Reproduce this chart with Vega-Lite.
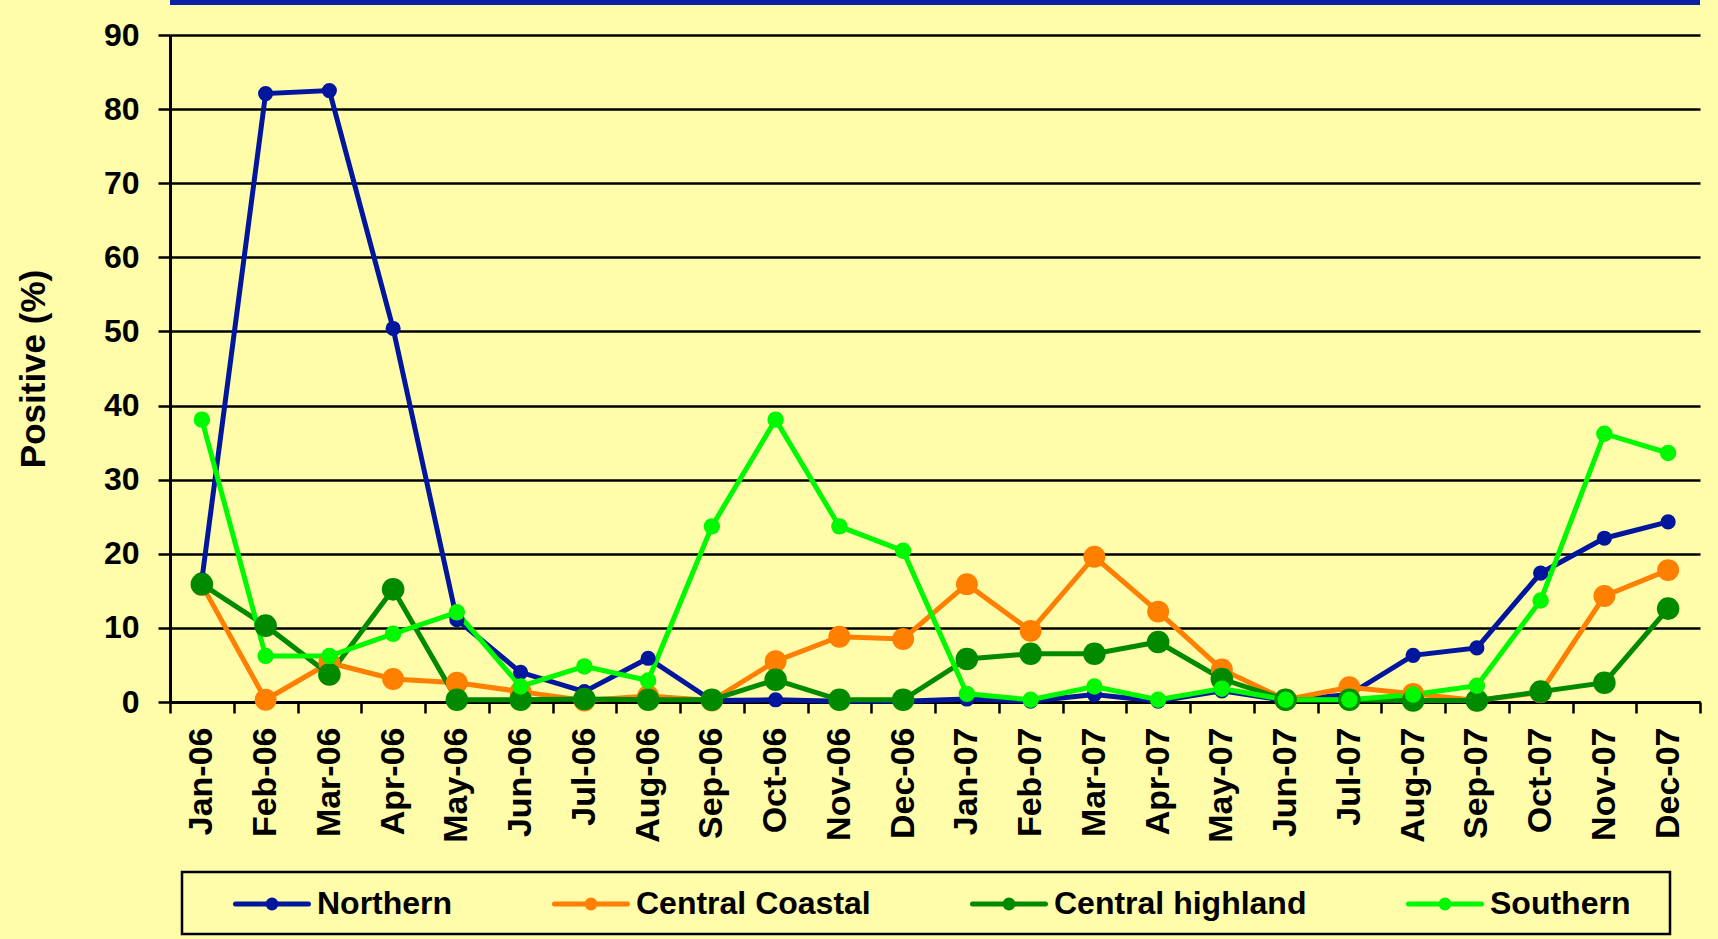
{
  "$schema": "https://vega.github.io/schema/vega-lite/v6.json",
  "autosize": {"type": "none"},
  "width": 1530,
  "height": 667,
  "padding": {"left": 170, "top": 35, "right": 18, "bottom": 237},
  "background": "#FFFCAA",
  "config": {"view": {"stroke": null}, "font": "Liberation Sans"},
  "datasets": {
    "rows": [
      {"month": "Jan-06", "series": "Northern", "value": 16.5},
      {"month": "Feb-06", "series": "Northern", "value": 82.1},
      {"month": "Mar-06", "series": "Northern", "value": 82.5},
      {"month": "Apr-06", "series": "Northern", "value": 50.4},
      {"month": "May-06", "series": "Northern", "value": 11.1},
      {"month": "Jun-06", "series": "Northern", "value": 4.0},
      {"month": "Jul-06", "series": "Northern", "value": 1.4},
      {"month": "Aug-06", "series": "Northern", "value": 5.9},
      {"month": "Sep-06", "series": "Northern", "value": 0.2},
      {"month": "Oct-06", "series": "Northern", "value": 0.3},
      {"month": "Nov-06", "series": "Northern", "value": 0.1},
      {"month": "Dec-06", "series": "Northern", "value": 0.1},
      {"month": "Jan-07", "series": "Northern", "value": 0.4},
      {"month": "Feb-07", "series": "Northern", "value": 0.1},
      {"month": "Mar-07", "series": "Northern", "value": 1.0},
      {"month": "Apr-07", "series": "Northern", "value": 0.1},
      {"month": "May-07", "series": "Northern", "value": 1.5},
      {"month": "Jun-07", "series": "Northern", "value": 0.2},
      {"month": "Jul-07", "series": "Northern", "value": 1.0},
      {"month": "Aug-07", "series": "Northern", "value": 6.3},
      {"month": "Sep-07", "series": "Northern", "value": 7.3},
      {"month": "Oct-07", "series": "Northern", "value": 17.4},
      {"month": "Nov-07", "series": "Northern", "value": 22.1},
      {"month": "Dec-07", "series": "Northern", "value": 24.3},
      {"month": "Jan-06", "series": "Central Coastal", "value": 15.8},
      {"month": "Feb-06", "series": "Central Coastal", "value": 0.3},
      {"month": "Mar-06", "series": "Central Coastal", "value": 5.3},
      {"month": "Apr-06", "series": "Central Coastal", "value": 3.1},
      {"month": "May-06", "series": "Central Coastal", "value": 2.6},
      {"month": "Jun-06", "series": "Central Coastal", "value": 1.4},
      {"month": "Jul-06", "series": "Central Coastal", "value": 0.2},
      {"month": "Aug-06", "series": "Central Coastal", "value": 0.8},
      {"month": "Sep-06", "series": "Central Coastal", "value": 0.2},
      {"month": "Oct-06", "series": "Central Coastal", "value": 5.5},
      {"month": "Nov-06", "series": "Central Coastal", "value": 8.8},
      {"month": "Dec-06", "series": "Central Coastal", "value": 8.5},
      {"month": "Jan-07", "series": "Central Coastal", "value": 15.9},
      {"month": "Feb-07", "series": "Central Coastal", "value": 9.6},
      {"month": "Mar-07", "series": "Central Coastal", "value": 19.6},
      {"month": "Apr-07", "series": "Central Coastal", "value": 12.2},
      {"month": "May-07", "series": "Central Coastal", "value": 4.4},
      {"month": "Jun-07", "series": "Central Coastal", "value": 0.3},
      {"month": "Jul-07", "series": "Central Coastal", "value": 2.0},
      {"month": "Aug-07", "series": "Central Coastal", "value": 1.1},
      {"month": "Sep-07", "series": "Central Coastal", "value": 0.2},
      {"month": "Oct-07", "series": "Central Coastal", "value": 1.3},
      {"month": "Nov-07", "series": "Central Coastal", "value": 14.3},
      {"month": "Dec-07", "series": "Central Coastal", "value": 17.8},
      {"month": "Jan-06", "series": "Central highland", "value": 15.9},
      {"month": "Feb-06", "series": "Central highland", "value": 10.3},
      {"month": "Mar-06", "series": "Central highland", "value": 3.7},
      {"month": "Apr-06", "series": "Central highland", "value": 15.2},
      {"month": "May-06", "series": "Central highland", "value": 0.3},
      {"month": "Jun-06", "series": "Central highland", "value": 0.3},
      {"month": "Jul-06", "series": "Central highland", "value": 0.4},
      {"month": "Aug-06", "series": "Central highland", "value": 0.3},
      {"month": "Sep-06", "series": "Central highland", "value": 0.3},
      {"month": "Oct-06", "series": "Central highland", "value": 3.0},
      {"month": "Nov-06", "series": "Central highland", "value": 0.3},
      {"month": "Dec-06", "series": "Central highland", "value": 0.3},
      {"month": "Jan-07", "series": "Central highland", "value": 5.8},
      {"month": "Feb-07", "series": "Central highland", "value": 6.5},
      {"month": "Mar-07", "series": "Central highland", "value": 6.5},
      {"month": "Apr-07", "series": "Central highland", "value": 8.1},
      {"month": "May-07", "series": "Central highland", "value": 3.1},
      {"month": "Jun-07", "series": "Central highland", "value": 0.3},
      {"month": "Jul-07", "series": "Central highland", "value": 0.3},
      {"month": "Aug-07", "series": "Central highland", "value": 0.2},
      {"month": "Sep-07", "series": "Central highland", "value": 0.2},
      {"month": "Oct-07", "series": "Central highland", "value": 1.4},
      {"month": "Nov-07", "series": "Central highland", "value": 2.6},
      {"month": "Dec-07", "series": "Central highland", "value": 12.6},
      {"month": "Jan-06", "series": "Southern", "value": 38.1},
      {"month": "Feb-06", "series": "Southern", "value": 6.2},
      {"month": "Mar-06", "series": "Southern", "value": 6.2},
      {"month": "Apr-06", "series": "Southern", "value": 9.2},
      {"month": "May-06", "series": "Southern", "value": 12.1},
      {"month": "Jun-06", "series": "Southern", "value": 2.1},
      {"month": "Jul-06", "series": "Southern", "value": 4.8},
      {"month": "Aug-06", "series": "Southern", "value": 2.9},
      {"month": "Sep-06", "series": "Southern", "value": 23.7},
      {"month": "Oct-06", "series": "Southern", "value": 38.1},
      {"month": "Nov-06", "series": "Southern", "value": 23.7},
      {"month": "Dec-06", "series": "Southern", "value": 20.4},
      {"month": "Jan-07", "series": "Southern", "value": 1.1},
      {"month": "Feb-07", "series": "Southern", "value": 0.3},
      {"month": "Mar-07", "series": "Southern", "value": 2.1},
      {"month": "Apr-07", "series": "Southern", "value": 0.3},
      {"month": "May-07", "series": "Southern", "value": 1.8},
      {"month": "Jun-07", "series": "Southern", "value": 0.3},
      {"month": "Jul-07", "series": "Southern", "value": 0.3},
      {"month": "Aug-07", "series": "Southern", "value": 1.0},
      {"month": "Sep-07", "series": "Southern", "value": 2.2},
      {"month": "Oct-07", "series": "Southern", "value": 13.7},
      {"month": "Nov-07", "series": "Southern", "value": 36.2},
      {"month": "Dec-07", "series": "Southern", "value": 33.6}
    ],
    "banner": [{"level": 94.4}]
  },
  "layer": [
    {
      "data": {"name": "banner"},
      "mark": {"type": "rule", "color": "#0A20A8", "strokeWidth": 5, "clip": false},
      "encoding": {
        "y": {"field": "level", "type": "quantitative", "scale": {"domain": [0, 90], "nice": false, "zero": true}}
      }
    },
    {
      "data": {"name": "rows"},
      "mark": {"type": "line", "strokeWidth": 5},
      "encoding": {
        "x": {
          "field": "month", "type": "ordinal",
          "sort": ["Jan-06","Feb-06","Mar-06","Apr-06","May-06","Jun-06","Jul-06","Aug-06","Sep-06","Oct-06","Nov-06","Dec-06","Jan-07","Feb-07","Mar-07","Apr-07","May-07","Jun-07","Jul-07","Aug-07","Sep-07","Oct-07","Nov-07","Dec-07"],
          "scale": {"type": "band", "paddingInner": 0, "paddingOuter": 0},
          "axis": {
            "title": null, "labelAngle": -90, "labelFont": "Liberation Sans", "labelFontWeight": "bold",
            "labelFontSize": 34, "labelColor": "black", "labelPadding": 14,
            "tickSize": 11, "tickColor": "black", "tickWidth": 2.5,
            "domainColor": "black", "domainWidth": 3, "grid": false, "tickBand": "extent"
          }
        },
        "y": {
          "field": "value", "type": "quantitative",
          "scale": {"domain": [0, 90], "nice": false, "zero": true},
          "axis": {
            "title": "Positive (%)", "values": [0, 10, 20, 30, 40, 50, 60, 70, 80, 90],
            "grid": true, "gridColor": "black", "gridWidth": 2.5, "gridOpacity": 1,
            "tickSize": 12, "tickColor": "black", "tickWidth": 2.5,
            "domainColor": "black", "domainWidth": 3,
            "labelFont": "Liberation Sans", "labelFontSize": 32, "labelFontWeight": "bold", "labelColor": "black", "labelPadding": 19,
            "titleFont": "Liberation Sans", "titleFontSize": 35, "titleFontWeight": "bold", "titleColor": "black", "titlePadding": 52
          }
        },
        "color": {
          "field": "series", "type": "nominal",
          "scale": {
            "domain": ["Northern", "Central Coastal", "Central highland", "Southern"],
            "range": ["#00169C", "#FF7F00", "#008A00", "#00F800"]
          },
          "legend": {
            "orient": "none", "legendX": 12, "legendY": 837, "direction": "horizontal",
            "title": "\u00a0", "titleOrient": "right", "titlePadding": 26, "titleFontSize": 32,
            "padding": 14, "strokeColor": "black", "fillColor": "#FFFCAA",
            "symbolType": "M-2.355,0L2.355,0M-0.258,0A0.258,0.258,0,1,1,0.258,0A0.258,0.258,0,1,1,-0.258,0Z",
            "symbolSize": 961, "symbolStrokeWidth": 5, "symbolOffset": 58, "labelOffset": 27,
            "labelFont": "Liberation Sans", "labelFontSize": 32, "labelFontWeight": "bold", "labelColor": "black",
            "labelLimit": 500,
            "columnPadding": 62,
            "labelExpr": "datum.label + '\u2003'",
            "encode": {
              "symbols": {"update": {
                "fill": {"scale": "color", "field": "value"},
                "stroke": {"scale": "color", "field": "value"},
                "strokeCap": {"value": "round"},
                "opacity": {"value": 1}
              }},
              "legend": {"update": {"strokeWidth": {"value": 2.5}}}
            }
          }
        }
      }
    },
    {
      "data": {"name": "rows"},
      "transform": [{"filter": "datum.series == 'Northern'"}],
      "mark": {"type": "circle", "opacity": 1, "size": 230},
      "encoding": {
        "x": {"field": "month", "type": "ordinal", "sort": ["Jan-06","Feb-06","Mar-06","Apr-06","May-06","Jun-06","Jul-06","Aug-06","Sep-06","Oct-06","Nov-06","Dec-06","Jan-07","Feb-07","Mar-07","Apr-07","May-07","Jun-07","Jul-07","Aug-07","Sep-07","Oct-07","Nov-07","Dec-07"]},
        "y": {"field": "value", "type": "quantitative"},
        "color": {"field": "series", "type": "nominal"}
      }
    },
    {
      "data": {"name": "rows"},
      "transform": [{"filter": "datum.series == 'Central Coastal'"}],
      "mark": {"type": "circle", "opacity": 1, "size": 480},
      "encoding": {
        "x": {"field": "month", "type": "ordinal", "sort": ["Jan-06","Feb-06","Mar-06","Apr-06","May-06","Jun-06","Jul-06","Aug-06","Sep-06","Oct-06","Nov-06","Dec-06","Jan-07","Feb-07","Mar-07","Apr-07","May-07","Jun-07","Jul-07","Aug-07","Sep-07","Oct-07","Nov-07","Dec-07"]},
        "y": {"field": "value", "type": "quantitative"},
        "color": {"field": "series", "type": "nominal"}
      }
    },
    {
      "data": {"name": "rows"},
      "transform": [{"filter": "datum.series == 'Central highland'"}],
      "mark": {"type": "circle", "opacity": 1, "size": 510},
      "encoding": {
        "x": {"field": "month", "type": "ordinal", "sort": ["Jan-06","Feb-06","Mar-06","Apr-06","May-06","Jun-06","Jul-06","Aug-06","Sep-06","Oct-06","Nov-06","Dec-06","Jan-07","Feb-07","Mar-07","Apr-07","May-07","Jun-07","Jul-07","Aug-07","Sep-07","Oct-07","Nov-07","Dec-07"]},
        "y": {"field": "value", "type": "quantitative"},
        "color": {"field": "series", "type": "nominal"}
      }
    },
    {
      "data": {"name": "rows"},
      "transform": [{"filter": "datum.series == 'Southern'"}],
      "mark": {"type": "circle", "opacity": 1, "size": 270},
      "encoding": {
        "x": {"field": "month", "type": "ordinal", "sort": ["Jan-06","Feb-06","Mar-06","Apr-06","May-06","Jun-06","Jul-06","Aug-06","Sep-06","Oct-06","Nov-06","Dec-06","Jan-07","Feb-07","Mar-07","Apr-07","May-07","Jun-07","Jul-07","Aug-07","Sep-07","Oct-07","Nov-07","Dec-07"]},
        "y": {"field": "value", "type": "quantitative"},
        "color": {"field": "series", "type": "nominal"}
      }
    }
  ]
}
